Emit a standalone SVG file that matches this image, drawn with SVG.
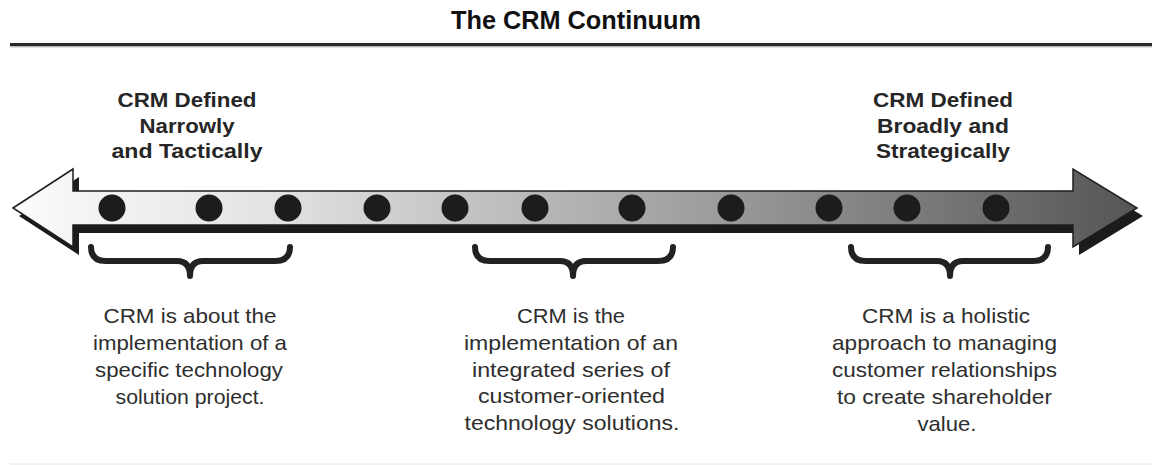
<svg xmlns="http://www.w3.org/2000/svg" width="1152" height="465" viewBox="0 0 1152 465">
  <defs>
    <linearGradient id="shaftFill" gradientUnits="userSpaceOnUse" x1="13" y1="0" x2="1138" y2="0">
      <stop offset="0" stop-color="#fbfbfb"/>
      <stop offset="0.22" stop-color="#e4e4e4"/>
      <stop offset="0.5" stop-color="#b2b2b2"/>
      <stop offset="0.76" stop-color="#838383"/>
      <stop offset="1" stop-color="#555555"/>
    </linearGradient>
    <!-- double-headed continuum arrow, reused for body and shadow -->
    <polygon id="arrowShape" points="13,208 73,169 73,191 1073,191 1073,169 1137,208 1073,247 1073,225 73,225 73,247"/>
  </defs>
  <style>
    .title { font-family: "Liberation Sans", Arial, sans-serif; font-weight: bold; font-size: 25px; fill: #111; text-anchor: middle; }
    .head { font-family: "Liberation Sans", Arial, sans-serif; font-weight: bold; font-size: 21px; fill: #262626; text-anchor: middle; }
    .body { font-family: "Liberation Sans", Arial, sans-serif; font-size: 21px; fill: #2e2e2e; text-anchor: middle; }
    .dot { fill: #1c1c1c; }
    .brace { fill: none; stroke: #222; stroke-width: 6; stroke-linecap: round; stroke-linejoin: round; }
  </style>

  <rect width="1152" height="465" fill="#ffffff"/>

  <!-- title and rules -->
  <g id="title">
    <text class="title" x="576" y="29" textLength="250" lengthAdjust="spacingAndGlyphs">The CRM Continuum</text>
    <line x1="10" y1="44.5" x2="1152" y2="44.5" stroke="#2b2b2b" stroke-width="3"/>
    <line x1="10" y1="46.8" x2="1152" y2="46.8" stroke="#9a9a9a" stroke-width="1"/>
    <line x1="10" y1="464" x2="1152" y2="464" stroke="#ececec" stroke-width="1.5"/>
  </g>

  <!-- the continuum scale -->
  <g id="continuum">
    <use href="#arrowShape" transform="translate(6,8)" fill="#1b1b1b"/>
    <use href="#arrowShape" fill="url(#shaftFill)" stroke="#1e1e1e" stroke-width="1.5" stroke-linejoin="miter"/>
    <g id="points">
      <circle class="dot" cx="112" cy="208" r="13.5"/>
      <circle class="dot" cx="209" cy="208" r="13.5"/>
      <circle class="dot" cx="288" cy="208" r="13.5"/>
      <circle class="dot" cx="377" cy="208" r="13.5"/>
      <circle class="dot" cx="455" cy="208" r="13.5"/>
      <circle class="dot" cx="535" cy="208" r="13.5"/>
      <circle class="dot" cx="632" cy="208" r="13.5"/>
      <circle class="dot" cx="731" cy="208" r="13.5"/>
      <circle class="dot" cx="829" cy="208" r="13.5"/>
      <circle class="dot" cx="907" cy="208" r="13.5"/>
      <circle class="dot" cx="996" cy="208" r="13.5"/>
    </g>
  </g>

  <!-- end labels -->
  <g id="narrow-end">
    <text class="head" x="187" y="107" textLength="139" lengthAdjust="spacingAndGlyphs">CRM Defined</text>
    <text class="head" x="187" y="133" textLength="95" lengthAdjust="spacingAndGlyphs">Narrowly</text>
    <text class="head" x="187" y="158" textLength="151" lengthAdjust="spacingAndGlyphs">and Tactically</text>
  </g>
  <g id="broad-end">
    <text class="head" x="943" y="107" textLength="140" lengthAdjust="spacingAndGlyphs">CRM Defined</text>
    <text class="head" x="943" y="133" textLength="132" lengthAdjust="spacingAndGlyphs">Broadly and</text>
    <text class="head" x="943" y="158" textLength="134" lengthAdjust="spacingAndGlyphs">Strategically</text>
  </g>

  <!-- braces grouping ranges of the scale -->
  <g id="connectors">
    <path class="brace" d="M91 247 Q91 261 106 261 L177 261 Q190 261 190 276 Q190 261 203 261 L275 261 Q290 261 290 247"/>
    <path class="brace" d="M475 247 Q475 261 490 261 L560 261 Q573 261 573 276 Q573 261 586 261 L658 261 Q673 261 673 247"/>
    <path class="brace" d="M851 247 Q851 261 866 261 L937 261 Q950 261 950 276 Q950 261 963 261 L1033 261 Q1048 261 1048 247"/>
  </g>

  <!-- descriptions -->
  <g id="tactical">
    <text class="body" x="190" y="323" textLength="173" lengthAdjust="spacingAndGlyphs">CRM is about the</text>
    <text class="body" x="190" y="350" textLength="194" lengthAdjust="spacingAndGlyphs">implementation of a</text>
    <text class="body" x="189" y="377" textLength="188" lengthAdjust="spacingAndGlyphs">specific technology</text>
    <text class="body" x="190" y="404" textLength="149" lengthAdjust="spacingAndGlyphs">solution project.</text>
  </g>
  <g id="integrated">
    <text class="body" x="571" y="323" textLength="108" lengthAdjust="spacingAndGlyphs">CRM is the</text>
    <text class="body" x="571" y="350" textLength="214" lengthAdjust="spacingAndGlyphs">implementation of an</text>
    <text class="body" x="571" y="377" textLength="198" lengthAdjust="spacingAndGlyphs">integrated series of</text>
    <text class="body" x="571.5" y="403" textLength="187" lengthAdjust="spacingAndGlyphs">customer-oriented</text>
    <text class="body" x="572" y="430" textLength="215" lengthAdjust="spacingAndGlyphs">technology solutions.</text>
  </g>
  <g id="strategic">
    <text class="body" x="946" y="323" textLength="168" lengthAdjust="spacingAndGlyphs">CRM is a holistic</text>
    <text class="body" x="944.5" y="350" textLength="225" lengthAdjust="spacingAndGlyphs">approach to managing</text>
    <text class="body" x="944.5" y="377" textLength="225" lengthAdjust="spacingAndGlyphs">customer relationships</text>
    <text class="body" x="944.5" y="404" textLength="215" lengthAdjust="spacingAndGlyphs">to create shareholder</text>
    <text class="body" x="947" y="431" textLength="59" lengthAdjust="spacingAndGlyphs">value.</text>
  </g>
</svg>
